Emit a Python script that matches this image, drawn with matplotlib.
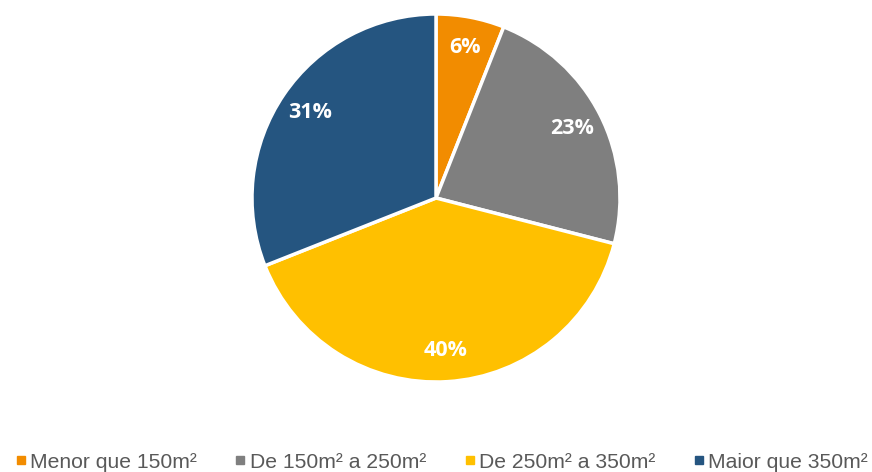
import matplotlib.pyplot as plt
from matplotlib.lines import Line2D

categories = ['Menor que 150m²', 'De 150m² a 250m²', 'De 250m² a 350m²', 'Maior que 350m²']
shares = [6, 23, 40, 31]
colors = ['#F28C00', '#7F7F7F', '#FFC000', '#255580']

fig = plt.figure(figsize=(8.72, 4.72), dpi=100)
W, H = 872, 472
cx, cy, r = 436, 472 - 198, 184
ax = fig.add_axes([(cx - r) / W, (cy - r) / H, 2 * r / W, 2 * r / H])

wedges, texts, autotexts = ax.pie(
    shares, colors=colors, startangle=90, counterclock=False,
    autopct=lambda p: f'{p:.0f}%', pctdistance=0.83, radius=1,
    wedgeprops=dict(edgecolor='white', linewidth=2.5, clip_on=False))
for t in autotexts:
    t.set_color('white')
    t.set_fontweight('bold')
    t.set_fontsize(15.5)
    t.set_family(['Open Sans', 'DejaVu Sans'])
ax.set_xlim(-1, 1)
ax.set_ylim(-1, 1)
ax.set_aspect('equal')

handles = [Line2D([], [], marker='s', linestyle='', markersize=5.5, color=c) for c in colors]
leg = fig.legend(handles, categories, loc='lower left', bbox_to_anchor=(6 / W, -0.022),
                 ncol=4, frameon=False, handlelength=0.4, handletextpad=0.25,
                 columnspacing=1.85, borderaxespad=0.1,
                 prop={'family': 'Liberation Sans', 'size': 15.2})
for t in leg.get_texts():
    t.set_color('#595959')

fig.savefig('out.png', dpi=100)
